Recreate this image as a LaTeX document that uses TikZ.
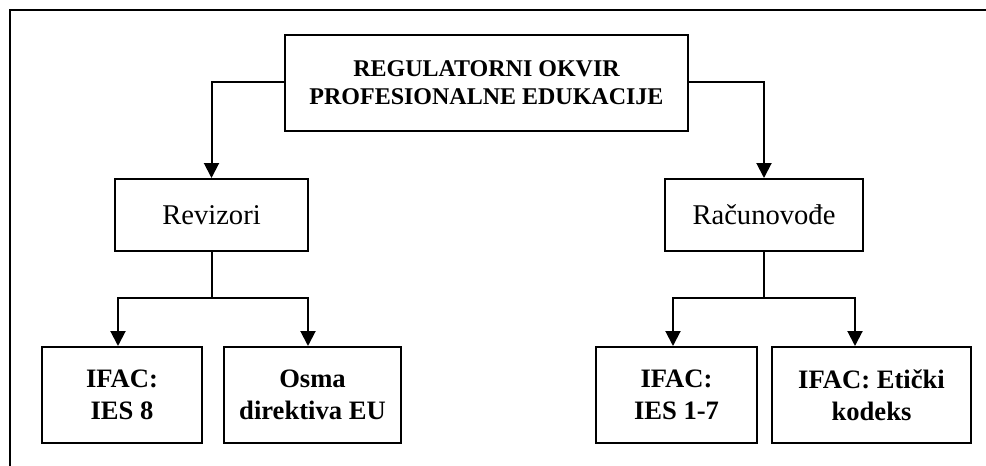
\documentclass[tikz,border=0pt]{standalone}
\usepackage{fontspec}
\setmainfont{Liberation Serif}
\usetikzlibrary{arrows.meta,calc}
\begin{document}
\begin{tikzpicture}[x=0.5pt,y=-0.5pt,
  box/.style={draw,line width=1pt,inner sep=0pt,align=center,anchor=center},
  bbox/.style={box,font=\fontsize{13.3}{16}\selectfont\bfseries},
  tbox/.style={box,font=\fontsize{12}{14}\selectfont\bfseries},
  rbox/.style={box,font=\fontsize{14.3}{16}\selectfont},
  conn/.style={line width=1pt},
  arr/.style={conn,-{Triangle[length=7.5pt,width=7.5pt]}}]
\useasboundingbox (0,0) rectangle (986,466);
\fill[white] (0,0) rectangle (986,466);
\draw[line width=1.3pt] (10,466) -- (10,10) -- (986,10);
\node[tbox,minimum width=201.5pt,minimum height=48pt] (top) at (486.5,83) {REGULATORNI OKVIR\\PROFESIONALNE EDUKACIJE};
\node[rbox,minimum width=96.5pt,minimum height=36pt] (rev) at (211.5,215) {Revizori};
\node[rbox,minimum width=99pt,minimum height=36pt] (rac) at (764,215) {Računovođe};
\node[bbox,minimum width=80pt,minimum height=48pt] (ies8) at (122,395) {IFAC:\\IES 8};
\node[bbox,minimum width=88.5pt,minimum height=48pt] (osma) at (312.5,395) {Osma\\direktiva EU};
\node[bbox,minimum width=80.5pt,minimum height=48pt] (ies17) at (676.5,395) {IFAC:\\IES 1-7};
\node[bbox,minimum width=99.5pt,minimum height=48pt] (etik) at (871.5,395) {IFAC: Etički\\kodeks};
\coordinate (jl) at (211.5,298);
\coordinate (jr) at (764,298);
\draw[arr] ([yshift=0.5pt]top.west) -| (rev.north);
\draw[arr] ([yshift=0.5pt]top.east) -| (rac.north);
\draw[conn] (rev.south) -- (jl);
\draw[conn] (rac.south) -- (jr);
\draw[arr] (jl) -| ([xshift=-2pt]ies8.north);
\draw[arr] (jl) -| ([xshift=-2.25pt]osma.north);
\draw[arr] (jr) -| ([xshift=-1.75pt]ies17.north);
\draw[arr] (jr) -| ([xshift=-8.25pt]etik.north);
\end{tikzpicture}
\end{document}
